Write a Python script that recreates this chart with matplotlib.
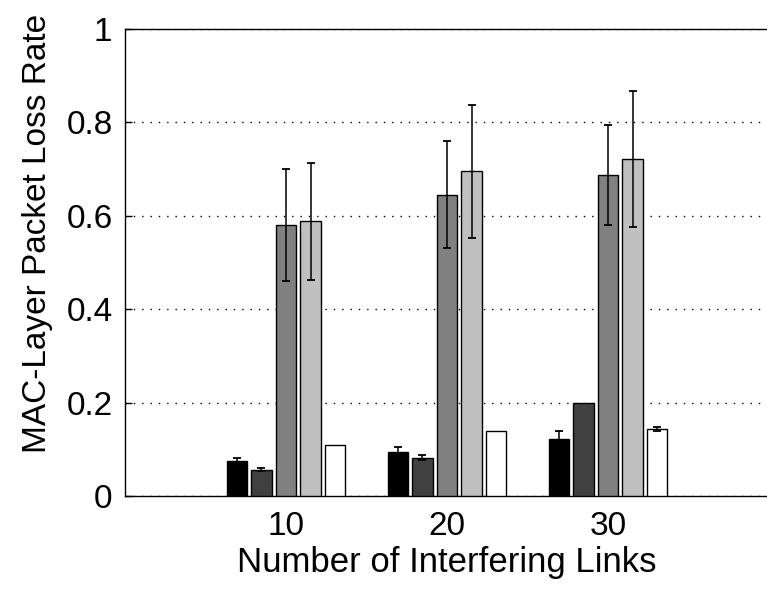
#!/usr/bin/env python3
"""Grouped bar chart: MAC-layer packet loss rate vs number of interfering links."""

import numpy as np
import matplotlib
matplotlib.use("Agg")
import matplotlib.pyplot as plt

plt.rcParams['font.family'] = ['Liberation Sans', 'DejaVu Sans']

# Data
links = [10, 20, 30]
series_colors = ['#000000', '#404040', '#808080', '#c0c0c0', '#ffffff']

loss_means = [
    [0.075, 0.094, 0.121],   # black
    [0.056, 0.082, 0.200],   # dark gray
    [0.580, 0.645, 0.687],   # gray
    [0.588, 0.695, 0.722],   # light gray
    [0.109, 0.139, 0.143],   # white
]
loss_err = [
    [0.007, 0.011, 0.019],
    [0.003, 0.005, 0.000],
    [0.120, 0.115, 0.107],
    [0.125, 0.143, 0.145],
    [0.000, 0.000, 0.004],
]


def main():
    fig = plt.figure(figsize=(7.67, 5.98), dpi=100)
    ax = fig.add_axes([125 / 767, 102 / 598, 644 / 767, 467 / 598])

    bar_w = 1.27
    step = 1.53
    x = np.array(links, dtype=float)
    n = len(loss_means)
    for i in range(n):
        offs = (i - (n - 1) / 2) * step
        m = np.array(loss_means[i])
        e = np.array(loss_err[i])
        ax.bar(x + offs, m, width=bar_w, color=series_colors[i],
               edgecolor='black', linewidth=1.0, zorder=3)
        keep = e > 0  # no visible error bar where spread is zero
        ax.errorbar((x + offs)[keep], m[keep], yerr=e[keep], fmt='none',
                    ecolor='black', elinewidth=1.1, capsize=3, capthick=1.3,
                    zorder=4)

    ax.set_xlim(0, 40)
    ax.set_ylim(0, 1)
    ax.set_xticks(links)
    ax.set_yticks([0, 0.2, 0.4, 0.6, 0.8, 1])
    ax.set_yticklabels(['0', '0.2', '0.4', '0.6', '0.8', '1'])
    ax.tick_params(direction='in', length=5, labelsize=24, width=1.0)
    ax.tick_params(axis='x', pad=11)
    ax.tick_params(axis='y', pad=9)

    ax.yaxis.grid(True, color='black', linestyle=(0, (1, 5)), linewidth=1.0,
                  zorder=0)
    ax.set_axisbelow(True)
    for sp in ax.spines.values():
        sp.set_linewidth(1.0)

    ax.set_xlabel('Number of Interfering Links', fontsize=25, labelpad=3)
    ax.set_ylabel('MAC-Layer Packet Loss Rate', fontsize=24)
    ax.yaxis.set_label_coords(-0.112, 0.563)

    fig.savefig('out.png', dpi=100)
    plt.close(fig)


if __name__ == "__main__":
    main()
